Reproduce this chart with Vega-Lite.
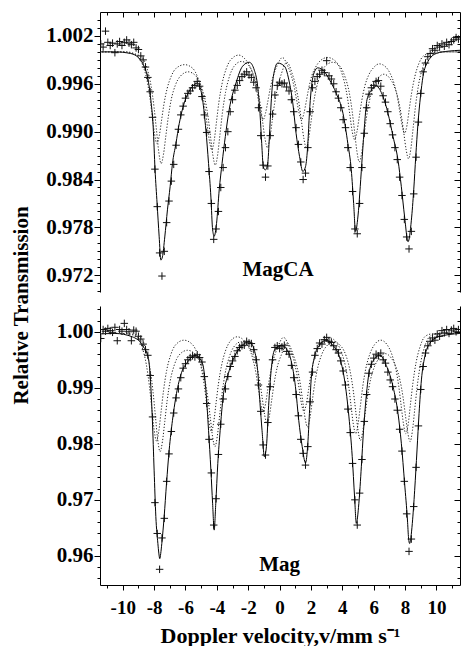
{
"$schema":"https://vega.github.io/schema/vega-lite/v6.json",
"padding":{"left":10,"top":8,"right":0,"bottom":0},
"bounds":"flush",
"spacing":14,
"config":{"view":{"stroke":null},"font":"Liberation Serif",
"axis":{"labelFont":"Liberation Serif","labelFontWeight":"bold","titleFont":"Liberation Serif","titleFontWeight":"bold","domainColor":"black","tickColor":"black","labelColor":"black","titleColor":"black","grid":false,"domainWidth":1,"tickWidth":1,"labelOverlap":false,"labelFlush":false}},
"datasets":{
"obsTop":[{"v":-11.4,"t":1.001},{"v":-11.25,"t":1.0006},{"v":-11.1,"t":1.0026},{"v":-10.95,"t":1.0012},{"v":-10.8,"t":1.0008},{"v":-10.65,"t":1.0011},{"v":-10.5,"t":0.9999},{"v":-10.35,"t":1.001},{"v":-10.2,"t":1.0013},{"v":-10.05,"t":1.0008},{"v":-9.9,"t":1.0012},{"v":-9.75,"t":1.0015},{"v":-9.6,"t":1.0011},{"v":-9.45,"t":1.0009},{"v":-9.3,"t":1.0012},{"v":-9.15,"t":1.0005},{"v":-9.0,"t":1.0003},{"v":-8.85,"t":0.9995},{"v":-8.7,"t":0.999},{"v":-8.55,"t":0.9981},{"v":-8.4,"t":0.9968},{"v":-8.25,"t":0.995},{"v":-8.1,"t":0.9918},{"v":-7.95,"t":0.9853},{"v":-7.8,"t":0.9806},{"v":-7.65,"t":0.9748},{"v":-7.5,"t":0.9719},{"v":-7.35,"t":0.975},{"v":-7.2,"t":0.9786},{"v":-7.05,"t":0.9813},{"v":-6.9,"t":0.9838},{"v":-6.75,"t":0.9859},{"v":-6.6,"t":0.9883},{"v":-6.45,"t":0.9903},{"v":-6.3,"t":0.9921},{"v":-6.15,"t":0.9932},{"v":-6.0,"t":0.9942},{"v":-5.85,"t":0.9948},{"v":-5.7,"t":0.9951},{"v":-5.55,"t":0.9955},{"v":-5.4,"t":0.9958},{"v":-5.25,"t":0.9963},{"v":-5.1,"t":0.9957},{"v":-4.95,"t":0.9944},{"v":-4.8,"t":0.9921},{"v":-4.65,"t":0.9899},{"v":-4.5,"t":0.985},{"v":-4.35,"t":0.981},{"v":-4.2,"t":0.9765},{"v":-4.05,"t":0.9778},{"v":-3.9,"t":0.98},{"v":-3.75,"t":0.983},{"v":-3.6,"t":0.9855},{"v":-3.45,"t":0.988},{"v":-3.3,"t":0.99},{"v":-3.15,"t":0.9925},{"v":-3.0,"t":0.994},{"v":-2.85,"t":0.9952},{"v":-2.7,"t":0.9958},{"v":-2.55,"t":0.9964},{"v":-2.4,"t":0.9969},{"v":-2.25,"t":0.9972},{"v":-2.1,"t":0.9975},{"v":-1.95,"t":0.9971},{"v":-1.8,"t":0.9968},{"v":-1.65,"t":0.9962},{"v":-1.5,"t":0.9955},{"v":-1.35,"t":0.993},{"v":-1.2,"t":0.9895},{"v":-1.05,"t":0.9858},{"v":-0.9,"t":0.9843},{"v":-0.75,"t":0.9857},{"v":-0.6,"t":0.9895},{"v":-0.45,"t":0.9922},{"v":-0.3,"t":0.9946},{"v":-0.15,"t":0.9958},{"v":0.0,"t":0.9962},{"v":0.15,"t":0.996},{"v":0.3,"t":0.9961},{"v":0.45,"t":0.9956},{"v":0.6,"t":0.9951},{"v":0.75,"t":0.994},{"v":0.9,"t":0.9925},{"v":1.05,"t":0.9905},{"v":1.2,"t":0.9884},{"v":1.35,"t":0.9862},{"v":1.5,"t":0.984},{"v":1.65,"t":0.9848},{"v":1.8,"t":0.988},{"v":1.95,"t":0.9925},{"v":2.1,"t":0.9955},{"v":2.25,"t":0.9963},{"v":2.4,"t":0.9969},{"v":2.55,"t":0.9972},{"v":2.7,"t":0.9977},{"v":2.85,"t":0.9974},{"v":3.0,"t":0.9989},{"v":3.15,"t":0.997},{"v":3.3,"t":0.9966},{"v":3.45,"t":0.996},{"v":3.6,"t":0.995},{"v":3.75,"t":0.9942},{"v":3.9,"t":0.993},{"v":4.05,"t":0.9915},{"v":4.2,"t":0.9905},{"v":4.35,"t":0.988},{"v":4.5,"t":0.9855},{"v":4.65,"t":0.9825},{"v":4.8,"t":0.9778},{"v":4.95,"t":0.9772},{"v":5.1,"t":0.981},{"v":5.25,"t":0.9855},{"v":5.4,"t":0.9898},{"v":5.55,"t":0.993},{"v":5.7,"t":0.9947},{"v":5.85,"t":0.9955},{"v":6.0,"t":0.9958},{"v":6.15,"t":0.9963},{"v":6.3,"t":0.9964},{"v":6.45,"t":0.9957},{"v":6.6,"t":0.9945},{"v":6.75,"t":0.9937},{"v":6.9,"t":0.9925},{"v":7.05,"t":0.991},{"v":7.2,"t":0.9896},{"v":7.35,"t":0.988},{"v":7.5,"t":0.9865},{"v":7.65,"t":0.9843},{"v":7.8,"t":0.982},{"v":7.95,"t":0.979},{"v":8.1,"t":0.9768},{"v":8.25,"t":0.9753},{"v":8.4,"t":0.9775},{"v":8.55,"t":0.9822},{"v":8.7,"t":0.9868},{"v":8.85,"t":0.9912},{"v":9.0,"t":0.9948},{"v":9.15,"t":0.9975},{"v":9.3,"t":0.9986},{"v":9.45,"t":0.9994},{"v":9.6,"t":0.9998},{"v":9.75,"t":1.0004},{"v":9.9,"t":1.0002},{"v":10.05,"t":1.0008},{"v":10.2,"t":1.0006},{"v":10.35,"t":1.001},{"v":10.5,"t":1.0007},{"v":10.65,"t":1.0012},{"v":10.8,"t":1.0009},{"v":10.95,"t":1.0013},{"v":11.1,"t":1.0015},{"v":11.25,"t":1.0018},{"v":11.4,"t":1.0016}],
"fitTop":[{"v":-11.5,"t":1.0},{"v":-10.5,"t":1.0},{"v":-9.5,"t":0.9998},{"v":-8.96,"t":0.9992},{"v":-8.64,"t":0.9982},{"v":-8.45,"t":0.9971},{"v":-8.21,"t":0.994},{"v":-8.06,"t":0.9906},{"v":-7.94,"t":0.9852},{"v":-7.81,"t":0.981},{"v":-7.68,"t":0.9769},{"v":-7.57,"t":0.9739},{"v":-7.47,"t":0.9743},{"v":-7.32,"t":0.9768},{"v":-7.15,"t":0.9802},{"v":-6.98,"t":0.9831},{"v":-6.83,"t":0.986},{"v":-6.61,"t":0.9885},{"v":-6.4,"t":0.991},{"v":-6.08,"t":0.9936},{"v":-5.66,"t":0.9954},{"v":-5.23,"t":0.9961},{"v":-4.91,"t":0.994},{"v":-4.7,"t":0.9902},{"v":-4.53,"t":0.986},{"v":-4.38,"t":0.9818},{"v":-4.27,"t":0.9777},{"v":-4.17,"t":0.9769},{"v":-4.02,"t":0.9785},{"v":-3.85,"t":0.9827},{"v":-3.67,"t":0.986},{"v":-3.46,"t":0.9894},{"v":-3.21,"t":0.9928},{"v":-2.78,"t":0.9961},{"v":-2.36,"t":0.9982},{"v":-1.93,"t":0.9987},{"v":-1.61,"t":0.9977},{"v":-1.4,"t":0.9957},{"v":-1.25,"t":0.9923},{"v":-1.14,"t":0.9885},{"v":-1.04,"t":0.9856},{"v":-0.91,"t":0.9852},{"v":-0.76,"t":0.986},{"v":-0.65,"t":0.9894},{"v":-0.54,"t":0.9936},{"v":-0.4,"t":0.9969},{"v":-0.12,"t":0.9986},{"v":0.31,"t":0.9982},{"v":0.63,"t":0.9961},{"v":0.84,"t":0.9936},{"v":1.05,"t":0.9898},{"v":1.27,"t":0.9869},{"v":1.48,"t":0.985},{"v":1.65,"t":0.9856},{"v":1.8,"t":0.9885},{"v":1.9,"t":0.9923},{"v":2.01,"t":0.9952},{"v":2.22,"t":0.9975},{"v":2.43,"t":0.998},{"v":2.86,"t":0.9975},{"v":3.18,"t":0.9965},{"v":3.61,"t":0.9948},{"v":4.04,"t":0.9923},{"v":4.35,"t":0.9885},{"v":4.57,"t":0.9852},{"v":4.72,"t":0.981},{"v":4.84,"t":0.9775},{"v":4.99,"t":0.9793},{"v":5.14,"t":0.9831},{"v":5.27,"t":0.9869},{"v":5.42,"t":0.991},{"v":5.57,"t":0.994},{"v":5.85,"t":0.9952},{"v":6.17,"t":0.9957},{"v":6.59,"t":0.9944},{"v":6.91,"t":0.9923},{"v":7.23,"t":0.9894},{"v":7.55,"t":0.9864},{"v":7.76,"t":0.9831},{"v":7.97,"t":0.9793},{"v":8.19,"t":0.9762},{"v":8.4,"t":0.9789},{"v":8.55,"t":0.9827},{"v":8.68,"t":0.9869},{"v":8.82,"t":0.991},{"v":8.98,"t":0.9944},{"v":9.14,"t":0.9969},{"v":9.46,"t":0.9988},{"v":9.99,"t":0.9998},{"v":10.8,"t":1.0001},{"v":11.5,"t":1.0002}],
"aTop":[{"v":-11.5,"t":1.0},{"v":-10.0,"t":1.0},{"v":-9.42,"t":0.9998},{"v":-9.02,"t":0.9994},{"v":-8.72,"t":0.9983},{"v":-8.47,"t":0.9966},{"v":-8.27,"t":0.9943},{"v":-8.12,"t":0.992},{"v":-7.97,"t":0.9897},{"v":-7.82,"t":0.9885},{"v":-7.67,"t":0.9895},{"v":-7.52,"t":0.9915},{"v":-7.37,"t":0.9935},{"v":-7.17,"t":0.9954},{"v":-6.92,"t":0.9969},{"v":-6.62,"t":0.9979},{"v":-6.05,"t":0.9984},{"v":-5.52,"t":0.9979},{"v":-5.22,"t":0.9968},{"v":-4.97,"t":0.9952},{"v":-4.77,"t":0.9931},{"v":-4.62,"t":0.9909},{"v":-4.47,"t":0.9888},{"v":-4.32,"t":0.9877},{"v":-4.17,"t":0.9889},{"v":-4.02,"t":0.9913},{"v":-3.87,"t":0.9937},{"v":-3.67,"t":0.996},{"v":-3.42,"t":0.9978},{"v":-3.12,"t":0.999},{"v":-2.6,"t":0.9996},{"v":-2.25,"t":0.9992},{"v":-1.95,"t":0.9984},{"v":-1.7,"t":0.9972},{"v":-1.5,"t":0.9956},{"v":-1.35,"t":0.9939},{"v":-1.2,"t":0.9923},{"v":-1.05,"t":0.9915},{"v":-0.9,"t":0.9923},{"v":-0.75,"t":0.9938},{"v":-0.6,"t":0.9954},{"v":-0.4,"t":0.997},{"v":-0.15,"t":0.9983},{"v":0.18,"t":0.9993},{"v":0.5,"t":0.9983},{"v":0.75,"t":0.997},{"v":0.95,"t":0.9954},{"v":1.1,"t":0.9938},{"v":1.25,"t":0.9923},{"v":1.4,"t":0.9915},{"v":1.55,"t":0.9923},{"v":1.7,"t":0.9938},{"v":1.85,"t":0.9954},{"v":2.05,"t":0.997},{"v":2.3,"t":0.9981},{"v":2.6,"t":0.9989},{"v":3.05,"t":0.9993},{"v":3.58,"t":0.9988},{"v":3.88,"t":0.9978},{"v":4.13,"t":0.9962},{"v":4.33,"t":0.9942},{"v":4.48,"t":0.9921},{"v":4.63,"t":0.99},{"v":4.78,"t":0.989},{"v":4.93,"t":0.99},{"v":5.08,"t":0.9919},{"v":5.23,"t":0.9938},{"v":5.43,"t":0.9957},{"v":5.68,"t":0.9971},{"v":5.98,"t":0.998},{"v":6.35,"t":0.9985},{"v":6.77,"t":0.9981},{"v":7.07,"t":0.9972},{"v":7.32,"t":0.9959},{"v":7.52,"t":0.9942},{"v":7.67,"t":0.9924},{"v":7.82,"t":0.9907},{"v":7.97,"t":0.9898},{"v":8.12,"t":0.9908},{"v":8.27,"t":0.9929},{"v":8.42,"t":0.9949},{"v":8.62,"t":0.9969},{"v":8.87,"t":0.9985},{"v":9.17,"t":0.9995},{"v":9.57,"t":0.9998},{"v":10.2,"t":1.0},{"v":11.5,"t":1.0}],
"bTop":[{"v":-11.5,"t":1.0},{"v":-9.75,"t":1.0},{"v":-9.15,"t":0.9997},{"v":-8.75,"t":0.9993},{"v":-8.45,"t":0.9979},{"v":-8.2,"t":0.9958},{"v":-8.0,"t":0.993},{"v":-7.85,"t":0.9902},{"v":-7.7,"t":0.9874},{"v":-7.55,"t":0.986},{"v":-7.4,"t":0.9872},{"v":-7.25,"t":0.9895},{"v":-7.1,"t":0.9918},{"v":-6.9,"t":0.9941},{"v":-6.65,"t":0.9958},{"v":-6.35,"t":0.9969},{"v":-5.83,"t":0.9975},{"v":-5.3,"t":0.9969},{"v":-5.0,"t":0.9957},{"v":-4.75,"t":0.994},{"v":-4.55,"t":0.9917},{"v":-4.4,"t":0.9893},{"v":-4.25,"t":0.987},{"v":-4.1,"t":0.9858},{"v":-3.95,"t":0.9871},{"v":-3.8,"t":0.9897},{"v":-3.65,"t":0.9923},{"v":-3.45,"t":0.9949},{"v":-3.2,"t":0.9969},{"v":-2.9,"t":0.9982},{"v":-2.44,"t":0.9988},{"v":-1.98,"t":0.9983},{"v":-1.68,"t":0.9972},{"v":-1.43,"t":0.9956},{"v":-1.23,"t":0.9934},{"v":-1.08,"t":0.9912},{"v":-0.93,"t":0.9891},{"v":-0.78,"t":0.988},{"v":-0.63,"t":0.9891},{"v":-0.48,"t":0.9912},{"v":-0.33,"t":0.9934},{"v":-0.13,"t":0.9955},{"v":0.12,"t":0.9973},{"v":0.46,"t":0.9987},{"v":0.8,"t":0.9973},{"v":1.05,"t":0.9955},{"v":1.25,"t":0.9934},{"v":1.4,"t":0.9912},{"v":1.55,"t":0.9891},{"v":1.7,"t":0.988},{"v":1.85,"t":0.9891},{"v":2.0,"t":0.9912},{"v":2.15,"t":0.9934},{"v":2.35,"t":0.9955},{"v":2.6,"t":0.9971},{"v":2.9,"t":0.9982},{"v":3.39,"t":0.9987},{"v":3.88,"t":0.9981},{"v":4.18,"t":0.9968},{"v":4.43,"t":0.995},{"v":4.63,"t":0.9925},{"v":4.78,"t":0.99},{"v":4.93,"t":0.9875},{"v":5.08,"t":0.9862},{"v":5.23,"t":0.9873},{"v":5.38,"t":0.9895},{"v":5.53,"t":0.9917},{"v":5.73,"t":0.9939},{"v":5.98,"t":0.9956},{"v":6.28,"t":0.9967},{"v":6.65,"t":0.9972},{"v":7.02,"t":0.9967},{"v":7.32,"t":0.9956},{"v":7.57,"t":0.994},{"v":7.77,"t":0.9919},{"v":7.92,"t":0.9898},{"v":8.07,"t":0.9877},{"v":8.22,"t":0.9866},{"v":8.37,"t":0.9879},{"v":8.52,"t":0.9906},{"v":8.67,"t":0.9933},{"v":8.87,"t":0.996},{"v":9.12,"t":0.998},{"v":9.42,"t":0.9993},{"v":9.82,"t":0.9997},{"v":10.4,"t":1.0},{"v":11.5,"t":1.0}],
"obsBot":[{"v":-11.4,"t":0.9988},{"v":-11.25,"t":1.0004},{"v":-11.1,"t":1.0001},{"v":-10.95,"t":1.0006},{"v":-10.8,"t":1.0002},{"v":-10.65,"t":0.9999},{"v":-10.5,"t":1.0008},{"v":-10.35,"t":0.9984},{"v":-10.2,"t":1.0004},{"v":-10.05,"t":1.0001},{"v":-9.9,"t":1.0015},{"v":-9.75,"t":1.0004},{"v":-9.6,"t":1.0},{"v":-9.45,"t":0.9984},{"v":-9.3,"t":1.0003},{"v":-9.15,"t":1.0001},{"v":-9.0,"t":0.9992},{"v":-8.85,"t":0.9987},{"v":-8.7,"t":0.9978},{"v":-8.55,"t":0.9968},{"v":-8.4,"t":0.9958},{"v":-8.25,"t":0.9922},{"v":-8.1,"t":0.9848},{"v":-7.95,"t":0.9695},{"v":-7.8,"t":0.964},{"v":-7.65,"t":0.9576},{"v":-7.5,"t":0.9632},{"v":-7.35,"t":0.9667},{"v":-7.2,"t":0.9733},{"v":-7.05,"t":0.9782},{"v":-6.9,"t":0.9822},{"v":-6.75,"t":0.9855},{"v":-6.6,"t":0.9882},{"v":-6.45,"t":0.9898},{"v":-6.3,"t":0.9918},{"v":-6.15,"t":0.9935},{"v":-6.0,"t":0.9943},{"v":-5.85,"t":0.995},{"v":-5.7,"t":0.9954},{"v":-5.55,"t":0.9957},{"v":-5.4,"t":0.9955},{"v":-5.25,"t":0.9959},{"v":-5.1,"t":0.9954},{"v":-4.95,"t":0.9946},{"v":-4.8,"t":0.992},{"v":-4.65,"t":0.9872},{"v":-4.5,"t":0.9808},{"v":-4.35,"t":0.9748},{"v":-4.2,"t":0.9655},{"v":-4.05,"t":0.9702},{"v":-3.9,"t":0.9781},{"v":-3.75,"t":0.9835},{"v":-3.6,"t":0.988},{"v":-3.45,"t":0.9898},{"v":-3.3,"t":0.992},{"v":-3.15,"t":0.9938},{"v":-3.0,"t":0.9948},{"v":-2.85,"t":0.9956},{"v":-2.7,"t":0.9966},{"v":-2.55,"t":0.9972},{"v":-2.4,"t":0.9975},{"v":-2.25,"t":0.9976},{"v":-2.1,"t":0.9983},{"v":-1.95,"t":0.998},{"v":-1.8,"t":0.9979},{"v":-1.65,"t":0.9968},{"v":-1.5,"t":0.995},{"v":-1.35,"t":0.9905},{"v":-1.2,"t":0.9858},{"v":-1.05,"t":0.9798},{"v":-0.9,"t":0.978},{"v":-0.75,"t":0.9838},{"v":-0.6,"t":0.9902},{"v":-0.45,"t":0.995},{"v":-0.3,"t":0.9972},{"v":-0.15,"t":0.9975},{"v":0.0,"t":0.997},{"v":0.15,"t":0.9973},{"v":0.3,"t":0.9976},{"v":0.45,"t":0.9965},{"v":0.6,"t":0.996},{"v":0.75,"t":0.994},{"v":0.9,"t":0.9918},{"v":1.05,"t":0.9888},{"v":1.2,"t":0.985},{"v":1.35,"t":0.9808},{"v":1.5,"t":0.9783},{"v":1.65,"t":0.9762},{"v":1.8,"t":0.9795},{"v":1.95,"t":0.9875},{"v":2.1,"t":0.9928},{"v":2.25,"t":0.9958},{"v":2.4,"t":0.997},{"v":2.55,"t":0.998},{"v":2.7,"t":0.9978},{"v":2.85,"t":0.9986},{"v":3.0,"t":0.999},{"v":3.15,"t":0.9983},{"v":3.3,"t":0.9981},{"v":3.45,"t":0.9975},{"v":3.6,"t":0.9968},{"v":3.75,"t":0.9962},{"v":3.9,"t":0.9948},{"v":4.05,"t":0.993},{"v":4.2,"t":0.9905},{"v":4.35,"t":0.9862},{"v":4.5,"t":0.982},{"v":4.65,"t":0.9765},{"v":4.8,"t":0.97},{"v":4.95,"t":0.9655},{"v":5.1,"t":0.9712},{"v":5.25,"t":0.9772},{"v":5.4,"t":0.984},{"v":5.55,"t":0.9888},{"v":5.7,"t":0.9926},{"v":5.85,"t":0.9942},{"v":6.0,"t":0.9953},{"v":6.15,"t":0.996},{"v":6.3,"t":0.9957},{"v":6.45,"t":0.9962},{"v":6.6,"t":0.995},{"v":6.75,"t":0.9944},{"v":6.9,"t":0.9928},{"v":7.05,"t":0.9914},{"v":7.2,"t":0.9902},{"v":7.35,"t":0.988},{"v":7.5,"t":0.986},{"v":7.65,"t":0.9826},{"v":7.8,"t":0.9787},{"v":7.95,"t":0.9733},{"v":8.1,"t":0.9675},{"v":8.25,"t":0.9608},{"v":8.4,"t":0.963},{"v":8.55,"t":0.9688},{"v":8.7,"t":0.9758},{"v":8.85,"t":0.9832},{"v":9.0,"t":0.9897},{"v":9.15,"t":0.9938},{"v":9.3,"t":0.9962},{"v":9.45,"t":0.9975},{"v":9.6,"t":0.9983},{"v":9.75,"t":0.9989},{"v":9.9,"t":0.9985},{"v":10.05,"t":0.9996},{"v":10.2,"t":0.9992},{"v":10.35,"t":1.0002},{"v":10.5,"t":0.9998},{"v":10.65,"t":1.0004},{"v":10.8,"t":0.9997},{"v":10.95,"t":1.0003},{"v":11.1,"t":1.0006},{"v":11.25,"t":1.0},{"v":11.4,"t":1.0004}],
"fitBot":[{"v":-11.5,"t":0.9996},{"v":-10.5,"t":0.9997},{"v":-9.39,"t":0.9991},{"v":-8.75,"t":0.9976},{"v":-8.36,"t":0.9952},{"v":-8.21,"t":0.9902},{"v":-8.11,"t":0.9842},{"v":-8.0,"t":0.9753},{"v":-7.89,"t":0.967},{"v":-7.76,"t":0.9622},{"v":-7.7,"t":0.9605},{"v":-7.64,"t":0.9595},{"v":-7.58,"t":0.9604},{"v":-7.51,"t":0.9622},{"v":-7.36,"t":0.967},{"v":-7.21,"t":0.9729},{"v":-7.04,"t":0.9789},{"v":-6.83,"t":0.9842},{"v":-6.61,"t":0.9884},{"v":-6.3,"t":0.9923},{"v":-5.87,"t":0.9946},{"v":-5.34,"t":0.9958},{"v":-4.91,"t":0.9943},{"v":-4.7,"t":0.9896},{"v":-4.53,"t":0.9824},{"v":-4.38,"t":0.9753},{"v":-4.27,"t":0.9693},{"v":-4.17,"t":0.9646},{"v":-4.07,"t":0.9693},{"v":-3.94,"t":0.9765},{"v":-3.79,"t":0.9824},{"v":-3.6,"t":0.9884},{"v":-3.32,"t":0.992},{"v":-3.21,"t":0.9931},{"v":-2.78,"t":0.9961},{"v":-2.25,"t":0.9979},{"v":-1.93,"t":0.9982},{"v":-1.61,"t":0.9967},{"v":-1.4,"t":0.9931},{"v":-1.25,"t":0.9872},{"v":-1.12,"t":0.9824},{"v":-0.97,"t":0.9777},{"v":-0.84,"t":0.9795},{"v":-0.7,"t":0.9868},{"v":-0.54,"t":0.9931},{"v":-0.33,"t":0.9967},{"v":0.1,"t":0.9976},{"v":0.42,"t":0.997},{"v":0.73,"t":0.9949},{"v":1.01,"t":0.9902},{"v":1.22,"t":0.9842},{"v":1.44,"t":0.9795},{"v":1.65,"t":0.9766},{"v":1.8,"t":0.9801},{"v":1.9,"t":0.9854},{"v":2.01,"t":0.9914},{"v":2.22,"t":0.9955},{"v":2.54,"t":0.9976},{"v":2.97,"t":0.9985},{"v":3.39,"t":0.9976},{"v":3.82,"t":0.9955},{"v":4.14,"t":0.9914},{"v":4.42,"t":0.9848},{"v":4.63,"t":0.9777},{"v":4.78,"t":0.9705},{"v":4.89,"t":0.9658},{"v":5.05,"t":0.9693},{"v":5.21,"t":0.9759},{"v":5.35,"t":0.9824},{"v":5.52,"t":0.9884},{"v":5.73,"t":0.9931},{"v":6.06,"t":0.9952},{"v":6.38,"t":0.9958},{"v":6.8,"t":0.994},{"v":7.23,"t":0.9902},{"v":7.55,"t":0.9854},{"v":7.76,"t":0.9801},{"v":7.97,"t":0.9729},{"v":8.15,"t":0.9664},{"v":8.22,"t":0.9632},{"v":8.29,"t":0.9622},{"v":8.37,"t":0.9633},{"v":8.46,"t":0.9658},{"v":8.61,"t":0.9717},{"v":8.76,"t":0.9789},{"v":8.89,"t":0.9854},{"v":9.04,"t":0.9914},{"v":9.25,"t":0.9955},{"v":9.57,"t":0.9979},{"v":10.11,"t":0.9991},{"v":11.5,"t":0.9997}],
"aBot":[{"v":-11.5,"t":0.9997},{"v":-10.05,"t":0.9997},{"v":-9.45,"t":0.9995},{"v":-9.05,"t":0.999},{"v":-8.75,"t":0.9971},{"v":-8.5,"t":0.9942},{"v":-8.3,"t":0.9903},{"v":-8.15,"t":0.9864},{"v":-8.0,"t":0.9825},{"v":-7.85,"t":0.9805},{"v":-7.7,"t":0.9823},{"v":-7.55,"t":0.9859},{"v":-7.4,"t":0.9895},{"v":-7.2,"t":0.9931},{"v":-6.95,"t":0.9958},{"v":-6.65,"t":0.9976},{"v":-6.1,"t":0.9985},{"v":-5.55,"t":0.9977},{"v":-5.25,"t":0.9961},{"v":-5.0,"t":0.9936},{"v":-4.8,"t":0.9904},{"v":-4.65,"t":0.9871},{"v":-4.5,"t":0.9838},{"v":-4.35,"t":0.9822},{"v":-4.2,"t":0.9839},{"v":-4.05,"t":0.9873},{"v":-3.9,"t":0.9907},{"v":-3.7,"t":0.994},{"v":-3.45,"t":0.9966},{"v":-3.15,"t":0.9983},{"v":-2.7,"t":0.9991},{"v":-2.25,"t":0.9984},{"v":-1.95,"t":0.9971},{"v":-1.7,"t":0.9951},{"v":-1.5,"t":0.9925},{"v":-1.35,"t":0.9898},{"v":-1.2,"t":0.9871},{"v":-1.05,"t":0.9858},{"v":-0.9,"t":0.9871},{"v":-0.75,"t":0.9898},{"v":-0.6,"t":0.9924},{"v":-0.4,"t":0.995},{"v":-0.15,"t":0.997},{"v":0.25,"t":0.999},{"v":0.65,"t":0.997},{"v":0.9,"t":0.995},{"v":1.1,"t":0.9924},{"v":1.25,"t":0.9898},{"v":1.4,"t":0.9871},{"v":1.55,"t":0.9858},{"v":1.7,"t":0.9871},{"v":1.85,"t":0.9897},{"v":2.0,"t":0.9924},{"v":2.2,"t":0.995},{"v":2.45,"t":0.9969},{"v":2.75,"t":0.9982},{"v":3.2,"t":0.9989},{"v":3.65,"t":0.998},{"v":3.95,"t":0.9963},{"v":4.2,"t":0.9938},{"v":4.4,"t":0.9904},{"v":4.55,"t":0.9869},{"v":4.7,"t":0.9835},{"v":4.85,"t":0.9818},{"v":5.0,"t":0.9835},{"v":5.15,"t":0.9868},{"v":5.3,"t":0.9902},{"v":5.5,"t":0.9935},{"v":5.75,"t":0.996},{"v":6.05,"t":0.9977},{"v":6.45,"t":0.9985},{"v":6.85,"t":0.9977},{"v":7.15,"t":0.996},{"v":7.4,"t":0.9935},{"v":7.6,"t":0.9902},{"v":7.75,"t":0.9868},{"v":7.9,"t":0.9835},{"v":8.05,"t":0.9818},{"v":8.2,"t":0.9836},{"v":8.35,"t":0.9873},{"v":8.5,"t":0.9909},{"v":8.7,"t":0.9945},{"v":8.95,"t":0.9973},{"v":9.25,"t":0.9991},{"v":9.65,"t":0.9996},{"v":10.25,"t":0.9997},{"v":11.5,"t":0.9997}],
"bBot":[{"v":-11.5,"t":0.9997},{"v":-9.82,"t":0.9997},{"v":-9.22,"t":0.9995},{"v":-8.82,"t":0.9989},{"v":-8.52,"t":0.9968},{"v":-8.27,"t":0.9936},{"v":-8.07,"t":0.9893},{"v":-7.92,"t":0.985},{"v":-7.77,"t":0.9807},{"v":-7.62,"t":0.9786},{"v":-7.47,"t":0.9804},{"v":-7.32,"t":0.984},{"v":-7.17,"t":0.9877},{"v":-6.97,"t":0.9913},{"v":-6.72,"t":0.994},{"v":-6.42,"t":0.9958},{"v":-5.87,"t":0.9967},{"v":-5.32,"t":0.9958},{"v":-5.02,"t":0.9941},{"v":-4.77,"t":0.9915},{"v":-4.57,"t":0.9881},{"v":-4.42,"t":0.9847},{"v":-4.27,"t":0.9812},{"v":-4.12,"t":0.9795},{"v":-3.97,"t":0.9814},{"v":-3.82,"t":0.9851},{"v":-3.67,"t":0.9889},{"v":-3.47,"t":0.9926},{"v":-3.22,"t":0.9954},{"v":-2.92,"t":0.9973},{"v":-2.46,"t":0.9982},{"v":-2.0,"t":0.9975},{"v":-1.7,"t":0.996},{"v":-1.45,"t":0.9938},{"v":-1.25,"t":0.9909},{"v":-1.1,"t":0.988},{"v":-0.95,"t":0.9851},{"v":-0.8,"t":0.9836},{"v":-0.65,"t":0.985},{"v":-0.5,"t":0.9879},{"v":-0.35,"t":0.9908},{"v":-0.15,"t":0.9937},{"v":0.1,"t":0.9958},{"v":0.49,"t":0.998},{"v":0.88,"t":0.9958},{"v":1.13,"t":0.9935},{"v":1.33,"t":0.9905},{"v":1.48,"t":0.9875},{"v":1.63,"t":0.9845},{"v":1.78,"t":0.983},{"v":1.93,"t":0.9845},{"v":2.08,"t":0.9876},{"v":2.23,"t":0.9906},{"v":2.43,"t":0.9936},{"v":2.68,"t":0.9959},{"v":2.98,"t":0.9974},{"v":3.46,"t":0.9982},{"v":3.95,"t":0.9973},{"v":4.25,"t":0.9956},{"v":4.5,"t":0.9929},{"v":4.7,"t":0.9894},{"v":4.85,"t":0.9859},{"v":5.0,"t":0.9824},{"v":5.15,"t":0.9806},{"v":5.3,"t":0.9822},{"v":5.45,"t":0.9853},{"v":5.6,"t":0.9884},{"v":5.8,"t":0.9915},{"v":6.05,"t":0.9938},{"v":6.35,"t":0.9953},{"v":6.73,"t":0.9961},{"v":7.12,"t":0.9953},{"v":7.42,"t":0.9937},{"v":7.67,"t":0.9914},{"v":7.87,"t":0.9883},{"v":8.02,"t":0.9851},{"v":8.17,"t":0.982},{"v":8.32,"t":0.9804},{"v":8.47,"t":0.9824},{"v":8.62,"t":0.9863},{"v":8.77,"t":0.9902},{"v":8.97,"t":0.9941},{"v":9.22,"t":0.9971},{"v":9.52,"t":0.999},{"v":9.92,"t":0.9996},{"v":10.5,"t":0.9997},{"v":11.5,"t":0.9997}]
},
"vconcat":[
{"width":360,"height":280,
"resolve":{"axis":{"x":"independent","y":"independent"}},
"layer":[
{"data":{"name":"obsTop"},"mark":{"type":"point","shape":"M-1,0L1,0M0,-1L0,1","size":56,"filled":false,"color":"#111111","strokeWidth":1,"opacity":1,"clip":true},
"encoding":{"x":{"field":"v","type":"quantitative","scale":{"domain":[-11.45,11.5],"nice":false,"zero":false},"axis":null},
"y":{"field":"t","type":"quantitative","scale":{"domain":[0.9699,1.005],"nice":false,"zero":false},
"axis":{"orient":"left","values":[0.97,0.971,0.972,0.973,0.974,0.975,0.976,0.977,0.978,0.979,0.98,0.981,0.982,0.983,0.984,0.985,0.986,0.987,0.988,0.989,0.99,0.991,0.992,0.993,0.994,0.995,0.996,0.997,0.998,0.999,1,1.001,1.002,1.003,1.004],
"labelExpr":"indexof(['0.972','0.978','0.984','0.990','0.996','1.002'], format(datum.value, '.3f')) >= 0 ? format(datum.value, '.3f') : ''",
"tickSize":{"condition":{"test":"indexof(['0.972','0.978','0.984','0.990','0.996','1.002'], format(datum.value, '.3f')) >= 0","value":6},"value":3},
"labelFontSize":21,"labelPadding":1,"title":"Relative Transmission","titleFontSize":21,"titleY":293,"titlePadding":14}}}},
{"data":{"name":"fitTop"},"mark":{"type":"line","color":"black","strokeWidth":1,"interpolate":"monotone","clip":true},
"encoding":{"x":{"field":"v","type":"quantitative","scale":{"domain":[-11.45,11.5],"nice":false,"zero":false},
"axis":{"orient":"top","values":[-11,-10,-9,-8,-7,-6,-5,-4,-3,-2,-1,0,1,2,3,4,5,6,7,8,9,10,11],"labels":false,"title":null,"tickSize":{"condition":{"test":"datum.value % 2 == 0","value":-5},"value":-3}}},
"y":{"field":"t","type":"quantitative","scale":{"domain":[0.9699,1.005],"nice":false,"zero":false},
"axis":{"orient":"right","values":[0.97,0.971,0.972,0.973,0.974,0.975,0.976,0.977,0.978,0.979,0.98,0.981,0.982,0.983,0.984,0.985,0.986,0.987,0.988,0.989,0.99,0.991,0.992,0.993,0.994,0.995,0.996,0.997,0.998,0.999,1,1.001,1.002,1.003,1.004],"labels":false,"title":null,
"tickSize":{"condition":{"test":"indexof(['0.972','0.978','0.984','0.990','0.996','1.002'], format(datum.value, '.3f')) >= 0","value":-6},"value":-3}}}}},
{"data":{"name":"aTop"},"mark":{"type":"line","color":"#222222","strokeWidth":1,"strokeDash":[1.2,1.8],"interpolate":"monotone","clip":true},
"encoding":{"x":{"field":"v","type":"quantitative","scale":{"domain":[-11.45,11.5],"nice":false,"zero":false},"axis":null},
"y":{"field":"t","type":"quantitative","scale":{"domain":[0.9699,1.005],"nice":false,"zero":false},"axis":null}}},
{"data":{"name":"bTop"},"mark":{"type":"line","color":"#222222","strokeWidth":1,"strokeDash":[1.2,1.8],"interpolate":"monotone","clip":true},
"encoding":{"x":{"field":"v","type":"quantitative","scale":{"domain":[-11.45,11.5],"nice":false,"zero":false},"axis":null},
"y":{"field":"t","type":"quantitative","scale":{"domain":[0.9699,1.005],"nice":false,"zero":false},"axis":null}}},
{"data":{"values":[{"v":-0.1,"t":0.9726,"lab":"MagCA"}]},"mark":{"type":"text","font":"Liberation Serif","fontWeight":"bold","fontSize":21,"align":"center","baseline":"middle","color":"black"},
"encoding":{"x":{"field":"v","type":"quantitative","scale":{"domain":[-11.45,11.5],"nice":false,"zero":false},"axis":null},
"y":{"field":"t","type":"quantitative","scale":{"domain":[0.9699,1.005],"nice":false,"zero":false},"axis":null},"text":{"field":"lab"}}}
]},
{"width":360,"height":279,
"resolve":{"axis":{"x":"independent","y":"independent"}},
"layer":[
{"data":{"name":"obsBot"},"mark":{"type":"point","shape":"M-1,0L1,0M0,-1L0,1","size":56,"filled":false,"color":"#111111","strokeWidth":1,"opacity":1,"clip":true},
"encoding":{"x":{"field":"v","type":"quantitative","scale":{"domain":[-11.45,11.5],"nice":false,"zero":false},
"axis":{"orient":"bottom","values":[-11,-10,-9,-8,-7,-6,-5,-4,-3,-2,-1,0,1,2,3,4,5,6,7,8,9,10,11],"labelExpr":"datum.value % 2 == 0 ? '' + datum.value : ''","tickSize":{"condition":{"test":"datum.value % 2 == 0","value":5},"value":3},"labelFontSize":19,"labelPadding":8,"title":"Doppler velocity,v/mm s⁻¹","titleFontSize":22,"titlePadding":8}},
"y":{"field":"t","type":"quantitative","scale":{"domain":[0.9548,1.0046],"nice":false,"zero":false},
"axis":{"orient":"left","values":[0.956,0.958,0.96,0.962,0.964,0.966,0.968,0.97,0.972,0.974,0.976,0.978,0.98,0.982,0.984,0.986,0.988,0.99,0.992,0.994,0.996,0.998,1,1.002,1.004],
"labelExpr":"indexof(['0.960','0.970','0.980','0.990','1.000'], format(datum.value, '.3f')) >= 0 ? format(datum.value, '.2f') : ''",
"tickSize":{"condition":{"test":"indexof(['0.960','0.970','0.980','0.990','1.000'], format(datum.value, '.3f')) >= 0","value":6},"value":3},
"labelFontSize":21,"labelPadding":1,"title":null}}}},
{"data":{"name":"fitBot"},"mark":{"type":"line","color":"black","strokeWidth":1,"interpolate":"monotone","clip":true},
"encoding":{"x":{"field":"v","type":"quantitative","scale":{"domain":[-11.45,11.5],"nice":false,"zero":false},"axis":null},
"y":{"field":"t","type":"quantitative","scale":{"domain":[0.9548,1.0046],"nice":false,"zero":false},
"axis":{"orient":"right","values":[0.956,0.958,0.96,0.962,0.964,0.966,0.968,0.97,0.972,0.974,0.976,0.978,0.98,0.982,0.984,0.986,0.988,0.99,0.992,0.994,0.996,0.998,1,1.002,1.004],"labels":false,"title":null,
"tickSize":{"condition":{"test":"indexof(['0.960','0.970','0.980','0.990','1.000'], format(datum.value, '.3f')) >= 0","value":-6},"value":-3}}}}},
{"data":{"name":"aBot"},"mark":{"type":"line","color":"#222222","strokeWidth":1,"strokeDash":[1.2,1.8],"interpolate":"monotone","clip":true},
"encoding":{"x":{"field":"v","type":"quantitative","scale":{"domain":[-11.45,11.5],"nice":false,"zero":false},"axis":null},
"y":{"field":"t","type":"quantitative","scale":{"domain":[0.9548,1.0046],"nice":false,"zero":false},"axis":null}}},
{"data":{"name":"bBot"},"mark":{"type":"line","color":"#222222","strokeWidth":1,"strokeDash":[1.2,1.8],"interpolate":"monotone","clip":true},
"encoding":{"x":{"field":"v","type":"quantitative","scale":{"domain":[-11.45,11.5],"nice":false,"zero":false},"axis":null},
"y":{"field":"t","type":"quantitative","scale":{"domain":[0.9548,1.0046],"nice":false,"zero":false},"axis":null}}},
{"data":{"values":[{"v":0,"t":0.9583,"lab":"Mag"}]},"mark":{"type":"text","font":"Liberation Serif","fontWeight":"bold","fontSize":21,"align":"center","baseline":"middle","color":"black"},
"encoding":{"x":{"field":"v","type":"quantitative","scale":{"domain":[-11.45,11.5],"nice":false,"zero":false},"axis":null},
"y":{"field":"t","type":"quantitative","scale":{"domain":[0.9548,1.0046],"nice":false,"zero":false},"axis":null},"text":{"field":"lab"}}}
]}
]
}
